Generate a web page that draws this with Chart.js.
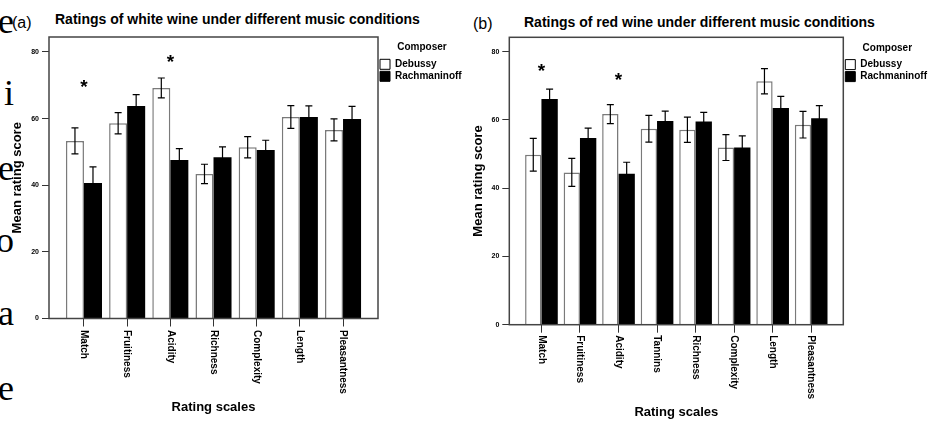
<!DOCTYPE html>
<html><head><meta charset="utf-8">
<script src="https://cdn.jsdelivr.net/npm/chart.js@4.4.1/dist/chart.umd.min.js"></script>
<style>
html,body{margin:0;padding:0;background:#fff;width:938px;height:421px;overflow:hidden;position:relative}
canvas{position:absolute;top:0}
.t{position:absolute;font:bold 14px 'Liberation Sans',Arial,sans-serif;line-height:16px;white-space:nowrap;color:#000}
.p{position:absolute;font:16px 'Liberation Sans',Arial,sans-serif;line-height:18px;color:#000;white-space:nowrap}
.s{position:absolute;left:-86px;width:100px;text-align:right;font:36px 'Liberation Serif','Times New Roman',serif;line-height:36px;color:#000}
</style></head><body>
<div class="s" style="top:2.9px">e</div>
<div class="s" style="top:74.9px">i</div>
<div class="s" style="top:149.9px">e</div>
<div class="s" style="top:221.9px">o</div>
<div class="s" style="top:294.9px">a</div>
<div class="s" style="top:369.9px">e</div>
<div class="p" style="left:12px;top:14px">(a)</div>
<div class="t" style="left:55px;top:11.4px">Ratings of white wine under different music conditions</div>
<div class="p" style="left:473px;top:15px">(b)</div>
<div class="t" style="left:524px;top:14.4px">Ratings of red wine under different music conditions</div>
<canvas id="cw" width="470" height="421" style="left:0"></canvas>
<canvas id="cr" width="478" height="421" style="left:460px"></canvas>
<script>
// ---- data: white wine (a)
const whiteCategories = ['Match','Fruitiness','Acidity','Richness','Complexity','Length','Pleasantness'];
const whiteDebussy      = [53.3, 58.6, 69.2, 43.4, 51.4, 60.5, 56.6];
const whiteDebussyErr   = [3.9, 3.2, 3.0, 2.9, 3.2, 3.4, 3.3];
const whiteRachmaninoff = [40.7, 63.8, 47.6, 48.4, 50.6, 60.5, 59.9];
const whiteRachErr      = [4.8, 3.4, 3.4, 3.1, 2.9, 3.3, 3.8];
const whiteStars        = [70.4, null, 77.9, null, null, null, null];
// ---- data: red wine (b)
const redCategories = ['Match','Fruitiness','Acidity','Tannins','Richness','Complexity','Length','Pleasantness'];
const redDebussy      = [49.8, 44.6, 61.7, 57.4, 57.1, 51.9, 71.3, 58.6];
const redDebussyErr   = [4.8, 4.1, 2.8, 3.9, 3.7, 3.8, 3.7, 3.9];
const redRachmaninoff = [66.1, 54.7, 44.2, 59.7, 59.5, 51.9, 63.5, 60.5];
const redRachErr      = [2.9, 2.9, 3.4, 2.9, 2.7, 3.4, 3.4, 3.7];
const redStars        = [75.4, null, 72.6, null, null, null, null, null];
// ---- ticks / labels
const yTickValues = [0, 20, 40, 60, 80];
const seriesNames = ['Debussy', 'Rachmaninoff'];
const legendTitle = 'Composer';
const xTitle = 'Rating scales';
const yTitle = 'Mean rating score';

const FAM = "'Liberation Sans', Arial, sans-serif";

function makeChart(id, cats, deb, debErr, rach, rachErr, stars, lay) {
  const errs = [debErr, rachErr];
  const extras = {
    id: 'extras',
    afterDatasetsDraw(chart) {
      const {ctx, chartArea: a, scales: {x, y}} = chart;
      ctx.save();
      ctx.strokeStyle = '#000'; ctx.lineWidth = 1.2;
      chart.data.datasets.forEach((ds, di) => {
        chart.getDatasetMeta(di).data.forEach((bar, j) => {
          const v = ds.data[j], e = errs[di][j];
          const yt = y.getPixelForValue(v + e), yb = y.getPixelForValue(v - e);
          const cx = bar.x, w = 3.5;
          ctx.beginPath();
          ctx.moveTo(cx, yt); ctx.lineTo(cx, yb);
          ctx.moveTo(cx - w, yt); ctx.lineTo(cx + w, yt);
          ctx.moveTo(cx - w, yb); ctx.lineTo(cx + w, yb);
          ctx.stroke();
        });
      });
      ctx.strokeStyle = '#444'; ctx.lineWidth = 1.5;
      ctx.strokeRect(a.left, a.top, a.right - a.left, a.bottom - a.top);
      ctx.fillStyle = '#000';
      ctx.font = 'bold 19px ' + FAM;
      ctx.textAlign = 'center'; ctx.textBaseline = 'alphabetic';
      const m = ctx.measureText('*');
      const off = (m.actualBoundingBoxAscent - m.actualBoundingBoxDescent) / 2;
      stars.forEach((s, j) => {
        if (s == null) return;
        ctx.fillText('*', x.getPixelForValue(j), y.getPixelForValue(s) + off);
      });
      ctx.restore();
    },
    afterDraw(chart) {
      const {ctx, scales: {x}} = chart;
      ctx.save();
      ctx.font = 'bold 10px ' + FAM; ctx.fillStyle = '#000';
      ctx.textAlign = 'left'; ctx.textBaseline = 'middle';
      x.ticks.forEach((t, i) => {
        const px = x.getPixelForTick(i);
        ctx.save(); ctx.translate(px, x.top + lay.labelGap); ctx.rotate(Math.PI / 2);
        ctx.fillText(cats[t.value], 0, 0); ctx.restore();
      });
      ctx.restore();
    }
  };
  return new Chart(document.getElementById(id), {
    type: 'bar',
    data: {
      labels: cats.map((_, i) => i),
      datasets: [
        {label: seriesNames[0], data: deb, backgroundColor: '#fff', borderColor: '#7a7a7a', borderWidth: 1.5,
         categoryPercentage: lay.catPct, barPercentage: 1},
        {label: seriesNames[1], data: rach, backgroundColor: '#000', borderColor: '#000', borderWidth: 0,
         categoryPercentage: lay.catPct, barPercentage: 1}
      ]
    },
    options: {
      responsive: false, animation: false, devicePixelRatio: 1,
      layout: {padding: lay.padding},
      scales: {
        x: {
          type: 'linear', min: lay.xMin, max: lay.xMax, offset: false,
          afterBuildTicks: s => { s.ticks = cats.map((_, i) => ({value: i})); },
          afterFit: s => { s.height = lay.xHeight; },
          ticks: {display: false},
          grid: {display: true, offset: false, drawOnChartArea: false, drawTicks: true, tickLength: 8, color: '#333', lineWidth: 1},
          border: {display: false},
          title: {display: true, text: xTitle, color: '#000', font: {family: FAM, size: 13, weight: 'bold'},
                  padding: {top: 0, bottom: lay.xTitlePad}}
        },
        y: {
          min: 0, max: lay.yMax,
          afterBuildTicks: s => { s.ticks = yTickValues.map(v => ({value: v})); },
          afterFit: s => { s.width = 42; },
          ticks: {color: '#000', font: {family: FAM, size: 7, weight: 'bold'}, padding: 3},
          grid: {drawOnChartArea: false, tickLength: 7, color: '#333', lineWidth: 1},
          border: {display: false},
          title: {display: true, text: yTitle, color: '#000', font: {family: FAM, size: 13, weight: 'bold'},
                  padding: {top: 3, bottom: 0}}
        }
      },
      plugins: {
        tooltip: {enabled: false},
        legend: {
          position: 'right', align: 'start', maxWidth: lay.legendW,
          title: {display: true, text: legendTitle, color: '#000', font: {family: FAM, size: 10, weight: 'bold'},
                  padding: {top: 5.5, bottom: 2.8}},
          labels: {
            boxWidth: 10, boxHeight: 10, padding: 2, color: '#000',
            font: {family: FAM, size: 10, weight: 'bold'},
            generateLabels: c => Chart.defaults.plugins.legend.labels.generateLabels(c)
              .map(l => Object.assign(l, {strokeStyle: '#000', lineWidth: 1}))
          }
        }
      }
    },
    plugins: [extras]
  });
}

makeChart('cw', whiteCategories, whiteDebussy, whiteDebussyErr, whiteRachmaninoff, whiteRachErr, whiteStars, {
  padding: {left: 7, top: 37, right: 4, bottom: 0}, legendW: 88, xHeight: 102.5,
  xMin: -0.81, xMax: 6.81, yMax: 84.5, xTitlePad: 6.2, labelGap: 11.5, catPct: 0.835
});
makeChart('cr', redCategories, redDebussy, redDebussyErr, redRachmaninoff, redRachErr, redStars, {
  padding: {left: 7.3, top: 37.3, right: 6.7, bottom: 0}, legendW: 88, xHeight: 96.3,
  xMin: -0.834, xMax: 7.834, yMax: 84.2, xTitlePad: 1.2, labelGap: 10.5, catPct: 0.848
});
</script>
</body></html>
